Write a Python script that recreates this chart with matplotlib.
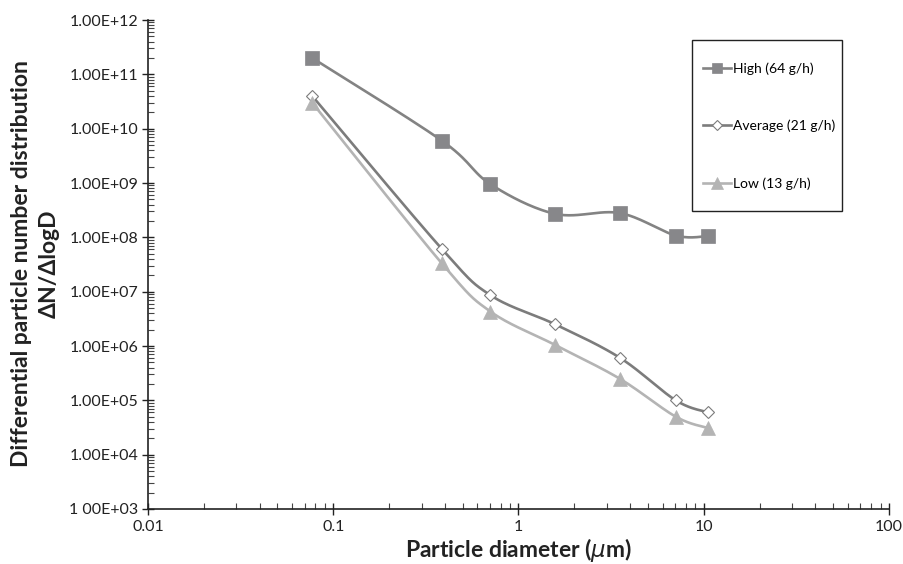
import matplotlib
matplotlib.use("Agg")
import matplotlib.pyplot as plt
import matplotlib.ticker as mticker
from matplotlib.lines import Line2D
from matplotlib.patches import Rectangle
import numpy as np

plt.rcParams['font.family'] = ['Lato', 'DejaVu Sans']
plt.rcParams['mathtext.fontset'] = 'dejavusans'

# data
diameter = [0.077, 0.386, 0.706, 1.58, 3.52, 7.06, 10.5]
high = [2.0e11, 6.0e9, 9.5e8, 2.7e8, 2.8e8, 1.08e8, 1.05e8]
average = [4.0e10, 6.1e7, 8.6e6, 2.5e6, 6.1e5, 1.0e5, 6.0e4]
low = [3.0e10, 3.3e7, 4.3e6, 1.04e6, 2.5e5, 5.0e4, 3.1e4]
series_names = ['High (64 g/h)', 'Average (21 g/h)', 'Low (13 g/h)']

ytick_vals = [1e3, 1e4, 1e5, 1e6, 1e7, 1e8, 1e9, 1e10, 1e11, 1e12]
ytick_labels = ['1 00E+03', '1.00E+04', '1.00E+05', '1.00E+06', '1.00E+07',
                '1.00E+08', '1.00E+09', '1.00E+10', '1.00E+11', '1.00E+12']
xtick_vals = [0.01, 0.1, 1, 10, 100]
xtick_labels = ['0.01', '0.1', '1', '10', '100']


def smooth(x, y, n=30):
    # excel style smoothed line (catmull-rom in log-log space)
    lx = np.log10(x)
    ly = np.log10(y)
    px = np.concatenate([[lx[0]], lx, [lx[-1]]])
    py = np.concatenate([[ly[0]], ly, [ly[-1]]])
    outx, outy = [], []
    t = np.linspace(0, 1, n)
    for i in range(1, len(px) - 2):
        p0x, p1x, p2x, p3x = px[i-1], px[i], px[i+1], px[i+2]
        p0y, p1y, p2y, p3y = py[i-1], py[i], py[i+1], py[i+2]
        c1x = p1x + (p2x - p0x) / 6
        c1y = p1y + (p2y - p0y) / 6
        c2x = p2x - (p3x - p1x) / 6
        c2y = p2y - (p3y - p1y) / 6
        bx = (1-t)**3*p1x + 3*(1-t)**2*t*c1x + 3*(1-t)*t**2*c2x + t**3*p2x
        by = (1-t)**3*p1y + 3*(1-t)**2*t*c1y + 3*(1-t)*t**2*c2y + t**3*p2y
        outx.extend(bx)
        outy.extend(by)
    return 10**np.array(outx), 10**np.array(outy)


fig = plt.figure(figsize=(9.04, 5.64), dpi=100)
ax = fig.add_axes([148/904, 55/564, 741/904, 489/564])

styles = [
    dict(color='#838383', marker='s', ms=9.5, mfc='#87878a', mec='#87878a', mew=0.5),
    dict(color='#7c7c7c', marker='D', ms=6.5, mfc='white', mec='#7c7c7c', mew=0.8),
    dict(color='#b4b4b4', marker='^', ms=10, mfc='#b4b4b4', mec='#b4b4b4', mew=0.5),
]
handles = []
for vals, st in zip([high, average, low], styles):
    sx, sy = smooth(np.array(diameter), np.array(vals))
    ax.plot(sx, sy, '-', color=st['color'], lw=1.9, zorder=2)
    ax.plot(diameter, vals, linestyle='none', marker=st['marker'], ms=st['ms'],
            mfc=st['mfc'], mec=st['mec'], mew=st['mew'], zorder=3)
    handles.append(Line2D([], [], color=st['color'], lw=1.9, marker=st['marker'],
                          ms=st['ms'] * 0.8, mfc=st['mfc'], mec=st['mec'], mew=st['mew']))

ax.set_xscale('log')
ax.set_yscale('log')
ax.set_xlim(0.01, 100)
ax.set_ylim(1e3, 1e12)

ax.set_xticks(xtick_vals)
ax.set_xticklabels(xtick_labels)
ax.set_yticks(ytick_vals)
ax.set_yticklabels(ytick_labels)
ax.xaxis.set_minor_locator(mticker.LogLocator(base=10, subs=np.arange(2, 10), numticks=20))
ax.yaxis.set_minor_locator(mticker.LogLocator(base=10, subs=np.arange(2, 10), numticks=20))
ax.xaxis.set_minor_formatter(mticker.NullFormatter())
ax.yaxis.set_minor_formatter(mticker.NullFormatter())

ax.tick_params(which='major', direction='inout', length=8, width=1, labelsize=11.5,
               colors='#222222', pad=3)
ax.tick_params(which='minor', direction='in', length=4.5, width=0.8, color='#444444')
ax.tick_params(axis='x', which='major', pad=4)

for s in ['top', 'right']:
    ax.spines[s].set_visible(False)
for s in ['left', 'bottom']:
    ax.spines[s].set_linewidth(1.2)
    ax.spines[s].set_color('#222222')

ax.set_xlabel(r'Particle diameter ($\mathit{\mu}$m)', fontsize=16.5, fontweight='bold',
              color='#222222', labelpad=1)
fig.text(35/904, 1 - 264/564, 'Differential particle number distribution\nΔN/ΔlogD',
         rotation=90, ha='center', va='center', multialignment='center',
         fontsize=16.5, fontweight='bold', color='#222222', linespacing=1.4)

# legend box
fig.patches.append(Rectangle((692/904, 1 - 211/564), 150/904, 171/564,
                             transform=fig.transFigure, fill=False, ec='#222222', lw=1.0))
fig.legend(handles, series_names, loc='upper left',
           bbox_to_anchor=(703/904, 1 - 62/564), frameon=False, fontsize=10,
           labelspacing=3.25, handlelength=2.0, handletextpad=0.15, borderpad=0,
           borderaxespad=0)

fig.savefig('out.png', dpi=100)
